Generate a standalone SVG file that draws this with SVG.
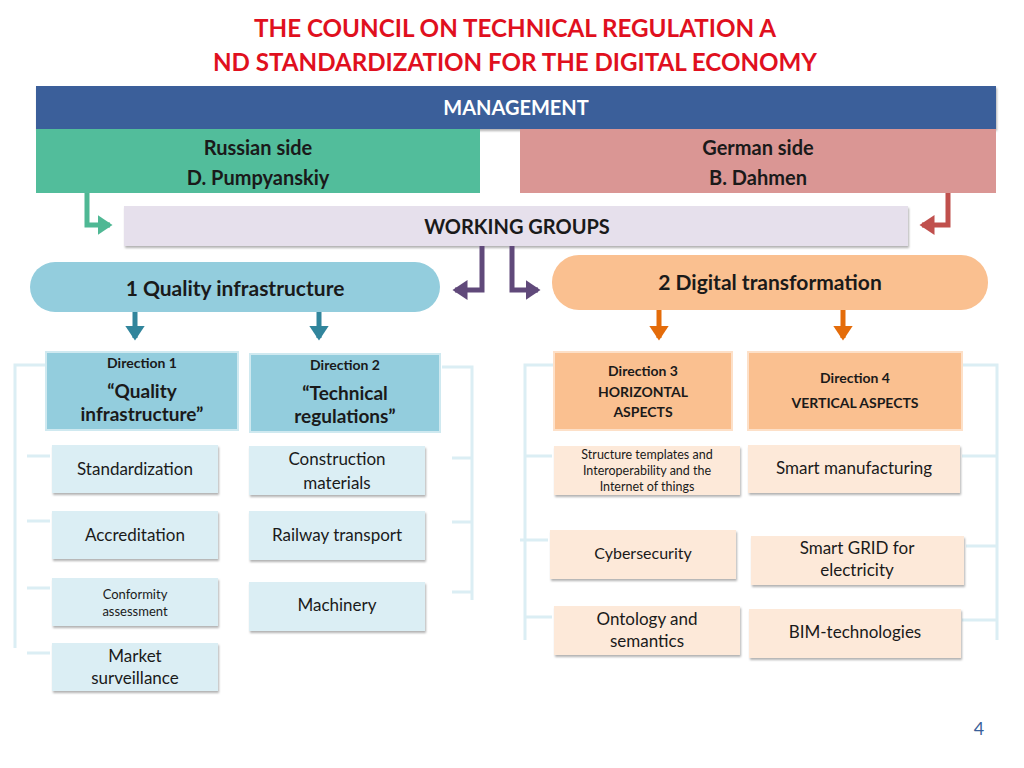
<svg xmlns="http://www.w3.org/2000/svg" width="1024" height="768" viewBox="0 0 1024 768">
<defs>
<filter id="sh" x="-5%" y="-10%" width="110%" height="130%"><feDropShadow dx="1" dy="2" stdDeviation="1.2" flood-color="#000" flood-opacity="0.3"/></filter>
<marker id="aG" markerWidth="4" markerHeight="4" refX="2.5" refY="2" orient="auto" markerUnits="strokeWidth"><path d="M0,0 L3,2 L0,4 Z" fill="#4fb894"/></marker>
<marker id="aR" markerWidth="4" markerHeight="4" refX="2.5" refY="2" orient="auto" markerUnits="strokeWidth"><path d="M0,0 L3,2 L0,4 Z" fill="#c0504d"/></marker>
<marker id="aP" markerWidth="4" markerHeight="4" refX="2.5" refY="2" orient="auto" markerUnits="strokeWidth"><path d="M0,0 L3,2 L0,4 Z" fill="#60497a"/></marker>
<marker id="aB" markerWidth="4" markerHeight="4" refX="2.5" refY="2" orient="auto" markerUnits="strokeWidth"><path d="M0,0 L3,2 L0,4 Z" fill="#31859c"/></marker>
<marker id="aO" markerWidth="4" markerHeight="4" refX="2.5" refY="2" orient="auto" markerUnits="strokeWidth"><path d="M0,0 L3,2 L0,4 Z" fill="#e46c0a"/></marker>
</defs>
<style>
text{font-family:"Lato","Open Sans","Liberation Sans",sans-serif;fill:#1a1a1a;text-anchor:middle}
.b{font-weight:bold}
.t{fill:#e0101e;font-weight:bold;font-size:24px}
.lb{fill:#dbeef4;filter:url(#sh)}
.ob{fill:#fde9d9;filter:url(#sh)}
.br{fill:none;stroke:#dbeef4;stroke-width:3}
.c{fill:none;stroke-width:5}
</style>
<rect width="1024" height="768" fill="#fff"/>
<text class="t" x="515" y="37" textLength="522" lengthAdjust="spacingAndGlyphs">THE COUNCIL ON TECHNICAL REGULATION A</text>
<text class="t" x="515" y="71" textLength="604" lengthAdjust="spacingAndGlyphs">ND STANDARDIZATION FOR THE DIGITAL ECONOMY</text>

<g id="management"><rect x="36" y="86" width="960" height="43" fill="#3a5f9a" filter="url(#sh)"/><text x="516" y="115" class="b" style="fill:#fff;font-size:20px">MANAGEMENT</text></g>
<g id="russian"><rect x="36" y="129" width="444" height="64" fill="#52bd9b"/><text x="258" y="155" class="b" style="font-size:20px">Russian side</text><text x="258" y="185" class="b" style="font-size:20px">D. Pumpyanskiy</text></g>
<g id="german"><rect x="520" y="129" width="476" height="64" fill="#da9694"/><text x="758" y="155" class="b" style="font-size:20px">German side</text><text x="758" y="185" class="b" style="font-size:20px">B. Dahmen</text></g>
<g id="wg"><rect x="124" y="206" width="784" height="40" fill="#e6e0ec" filter="url(#sh)"/><text x="517" y="234" class="b" style="font-size:20px">WORKING GROUPS</text></g>
<g id="g1"><rect x="30" y="262" width="410" height="50" rx="25" fill="#93cddd"/><text x="235" y="296" class="b" style="font-size:21px">1 Quality infrastructure</text></g>
<g id="g2"><rect x="552" y="255" width="436" height="55" rx="27" fill="#fac090"/><text x="770" y="290" class="b" style="font-size:21px">2 Digital transformation</text></g>

<g id="connectors">
<path class="c" d="M87,193 V225 H110" stroke="#4fb894" marker-end="url(#aG)"/>
<path class="c" d="M948,193 V225 H922" stroke="#c0504d" marker-end="url(#aR)"/>
<path class="c" d="M482,246 V290 H455" stroke="#60497a" marker-end="url(#aP)"/>
<path class="c" d="M512,246 V290 H538" stroke="#60497a" marker-end="url(#aP)"/>
<path class="c" d="M135,312 V338" stroke="#31859c" stroke-width="3" marker-end="url(#aB)"/>
<path class="c" d="M319,312 V338" stroke="#31859c" stroke-width="3" marker-end="url(#aB)"/>
<path class="c" d="M659,310 V338" stroke="#e46c0a" stroke-width="3" marker-end="url(#aO)"/>
<path class="c" d="M843,310 V338" stroke="#e46c0a" stroke-width="3" marker-end="url(#aO)"/>
<path class="br" d="M45,365 H15 V648 M27,456 H50 M27,521 H50 M27,588 H50 M27,653 H50"/>
<path class="br" d="M442,367 H472 V600 M452,458 H472 M452,522 H472 M452,592 H472"/>
<path class="br" d="M554,365 H525 V640 M525,456 H552 M520,540 H548 M525,617 H552"/>
<path class="br" d="M962,365 H997 V640 M962,456 H997 M966,546 H997 M962,620 H997"/>
</g>

<g id="d1"><rect x="46" y="352" width="192" height="78" fill="#93cddd" stroke="#cfe9f0" stroke-width="2"/><text x="142" y="368" class="b" style="font-size:14px">Direction 1</text><text x="142" y="398" class="b" style="font-size:19px">“Quality</text><text x="142" y="421" class="b" style="font-size:19px">infrastructure”</text></g>
<g id="d2"><rect x="250" y="354" width="190" height="78" fill="#93cddd" stroke="#cfe9f0" stroke-width="2"/><text x="345" y="370" class="b" style="font-size:14px">Direction 2</text><text x="345" y="400" class="b" style="font-size:19px">“Technical</text><text x="345" y="423" class="b" style="font-size:19px">regulations”</text></g>
<g id="d3"><rect x="554" y="352" width="178" height="78" fill="#fac090" stroke="#fde0c8" stroke-width="2"/><text x="643" y="376" class="b" style="font-size:14px">Direction 3</text><text x="643" y="397" class="b" style="font-size:14px">HORIZONTAL</text><text x="643" y="417" class="b" style="font-size:14px">ASPECTS</text></g>
<g id="d4"><rect x="748" y="352" width="214" height="78" fill="#fac090" stroke="#fde0c8" stroke-width="2"/><text x="855" y="383" class="b" style="font-size:14px">Direction 4</text><text x="855" y="408" class="b" style="font-size:14px">VERTICAL ASPECTS</text></g>

<g id="std"><rect class="lb" x="52" y="445" width="166" height="48"/><text x="135" y="475" style="font-size:17px">Standardization</text></g>
<g id="acc"><rect class="lb" x="52" y="511" width="166" height="48"/><text x="135" y="541" style="font-size:17px">Accreditation</text></g>
<g id="conf"><rect class="lb" x="52" y="578" width="166" height="48"/><text x="135" y="599" style="font-size:13px">Conformity</text><text x="135" y="616" style="font-size:13px">assessment</text></g>
<g id="mkt"><rect class="lb" x="52" y="643" width="166" height="48"/><text x="135" y="662" style="font-size:17px">Market</text><text x="135" y="684" style="font-size:17px">surveillance</text></g>
<g id="cons"><rect class="lb" x="249" y="446" width="176" height="49"/><text x="337" y="465" style="font-size:17px">Construction</text><text x="337" y="489" style="font-size:17px">materials</text></g>
<g id="rail"><rect class="lb" x="249" y="511" width="176" height="49"/><text x="337" y="541" style="font-size:17px">Railway transport</text></g>
<g id="mach"><rect class="lb" x="249" y="582" width="176" height="49"/><text x="337" y="611" style="font-size:17px">Machinery</text></g>

<g id="struct"><rect class="ob" x="554" y="446" width="186" height="49"/><text x="647" y="459" style="font-size:12.5px">Structure templates and</text><text x="647" y="475" style="font-size:12.5px">Interoperability and the</text><text x="647" y="491" style="font-size:12.5px">Internet of things</text></g>
<g id="cyber"><rect class="ob" x="550" y="530" width="186" height="49"/><text x="643" y="559" style="font-size:16px">Cybersecurity</text></g>
<g id="onto"><rect class="ob" x="554" y="606" width="186" height="49"/><text x="647" y="625" style="font-size:17px">Ontology and</text><text x="647" y="647" style="font-size:17px">semantics</text></g>
<g id="smart"><rect class="ob" x="748" y="445" width="212" height="48"/><text x="854" y="474" style="font-size:17px">Smart manufacturing</text></g>
<g id="grid"><rect class="ob" x="751" y="536" width="213" height="49"/><text x="857" y="554" style="font-size:17px">Smart GRID for</text><text x="857" y="576" style="font-size:17px">electricity</text></g>
<g id="bim"><rect class="ob" x="749" y="609" width="212" height="49"/><text x="855" y="638" style="font-size:17px">BIM-technologies</text></g>

<text x="979" y="735" style="font-size:18px;fill:#3a5f9a">4</text>
</svg>
